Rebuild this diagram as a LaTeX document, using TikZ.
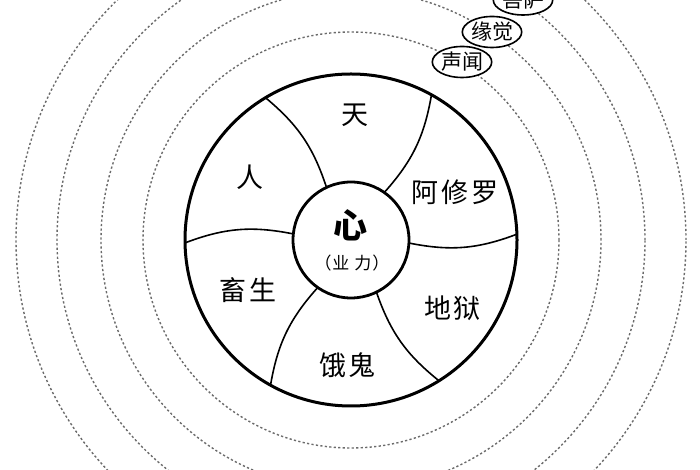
\documentclass[tikz,border=0pt]{standalone}
\usepackage{fontspec}
\newfontfamily\cjk{Noto Sans CJK SC}
\usetikzlibrary{shapes.geometric,calc}
\tikzset{
  ring/.style={draw=black!58, line width=1.4pt, dash pattern=on 2.2pt off 2.3pt},
  spoke/.style={draw=black, line width=1.6pt},
  realm/.style={font=\cjk\fontsize{27}{27}\selectfont, inner sep=0pt},
  smallell/.style={draw=black, line width=1.6pt, fill=white, ellipse, inner sep=0pt,
     minimum width=56pt, minimum height=31pt, font=\cjk\fontsize{21}{21}\selectfont},
}
\begin{document}
\begin{tikzpicture}[x=1pt,y=1pt]
\useasboundingbox (0,0) rectangle (700,470);
\clip (0,0) rectangle (700,470);
\fill[white] (0,0) rectangle (700,470);
\coordinate (c) at (351,230);
% dashed rings
\foreach \r/\n in {208/r1,250/r2,294/r3,335/r4}{
  \node[ring, circle, minimum size=2*\r pt, inner sep=0pt] (\n) at (c) {};
}
% small ellipses
\node[smallell] (shengwen) at (462,408) {声闻};
\node[smallell] (yuanjue) at (492,438) {缘觉};
\node[smallell, minimum width=52pt, minimum height=30pt] (pusa) at (523,470) {菩萨};
% wheel
\node[circle, draw=black, line width=3pt, minimum size=332pt, inner sep=0pt, fill=white] (wheel) at (c) {};
% spokes
\foreach \a/\b/\n in {115/121/s1, 55/61/s2, -3/2/s3, -64/-58/s4, -125/-119/s5, 174/181/s6}{
  \coordinate (\n i) at ($(c)+(\a:58)$);
  \coordinate (\n o) at ($(c)+(\b:166)$);
  \draw[spoke] (\n i) to[bend right=16] (\n o);
}
\node[circle, draw=black, line width=2.8pt, minimum size=116pt, inner sep=0pt, fill=white] (hub) at (c) {};
% labels
\node[realm] (tian) at (355,355) {天};
\node[realm] (ren) at (250,293) {人};
\node[realm] (axiuluo) at (455,278) {阿\hspace{3pt}修\hspace{3pt}罗};
\node[realm] (chusheng) at (248,180) {畜\hspace{3pt}生};
\node[realm] (diyu) at (452,162) {地\hspace{2pt}狱};
\node[realm] (egui) at (347,105) {饿\hspace{2pt}鬼};
\node[font=\cjk\bfseries\fontsize{34}{34}\selectfont, inner sep=0pt] (xin) at (350,245) {心};
\node[font=\cjk\fontsize{17}{17}\selectfont, inner sep=0pt] (yeli) at (352,207) {（\hspace{1pt}业\hspace{5pt}力\hspace{1pt}）};
\end{tikzpicture}
\end{document}
